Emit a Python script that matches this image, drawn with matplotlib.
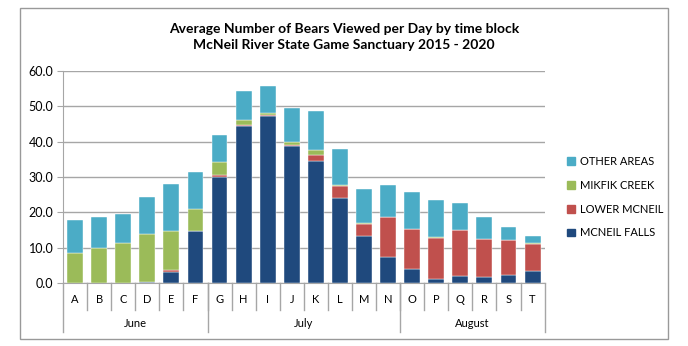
import matplotlib.pyplot as plt
from matplotlib.patches import Rectangle, Patch
import numpy as np

plt.rcParams['font.family'] = ['Lato', 'DejaVu Sans']

# time blocks and months
blocks = list("ABCDEFGHIJKLMNOPQRST")
months = ["June", "July", "August"]
month_sizes = [6, 8, 6]

# average bears per day, by viewing area
mcneil_falls = [0.0, 0.0, 0.0, 0.4, 3.0, 14.7, 30.0, 44.3, 47.2, 38.8,
                34.6, 24.0, 13.2, 7.3, 3.9, 1.1, 1.9, 1.7, 2.4, 3.5]
lower_mcneil = [0.0, 0.0, 0.0, 0.0, 0.6, 0.0, 0.5, 0.3, 0.4, 0.3,
                1.7, 3.4, 3.4, 11.4, 11.4, 11.6, 13.0, 10.8, 9.7, 7.5]
mikfik_creek = [8.5, 9.8, 11.2, 13.5, 11.0, 6.2, 3.8, 1.6, 0.5, 0.9,
                1.4, 0.2, 0.3, 0.1, 0.0, 0.2, 0.0, 0.0, 0.2, 0.3]
other_areas = [9.3, 9.0, 8.3, 10.5, 13.3, 10.4, 7.5, 8.1, 7.7, 9.6,
               10.9, 10.4, 9.6, 8.9, 10.5, 10.7, 7.8, 6.1, 3.6, 2.1]

series = [("MCNEIL FALLS", mcneil_falls, "#1F497D"),
          ("LOWER MCNEIL", lower_mcneil, "#C0504D"),
          ("MIKFIK CREEK", mikfik_creek, "#9BBB59"),
          ("OTHER AREAS", other_areas, "#4BACC6")]

fig = plt.figure(figsize=(6.88, 3.46), dpi=100)
ax = fig.add_axes([0.0916, 0.182, 0.7, 0.613])

x = np.arange(len(blocks))
bottom = np.zeros(len(blocks))
for name, vals, col in series:
    ax.bar(x, vals, 0.66, bottom=bottom, color=col, edgecolor="white",
           linewidth=0.3, zorder=3)
    bottom += np.array(vals)

ax.set_xlim(-0.5, len(blocks) - 0.5)
ax.set_ylim(0, 60)
ax.set_yticks(np.arange(0, 61, 10))
ax.set_yticklabels([f"{v:.1f}" for v in np.arange(0, 61, 10)], fontsize=9)
ax.yaxis.grid(True, color="#A6A6A6", linewidth=1, zorder=0)
ax.tick_params(axis="y", length=4, color="#A6A6A6", pad=3)
ax.set_xticks([])
for s in ["top", "right"]:
    ax.spines[s].set_visible(False)
for s in ["left", "bottom"]:
    ax.spines[s].set_color("#A6A6A6")

# category labels and separators
tr = ax.get_xaxis_transform()
for i, b in enumerate(blocks):
    ax.text(i, -0.08, b, transform=tr, ha="center", va="center", fontsize=8)
for i in range(1, len(blocks)):
    ax.plot([i - 0.5, i - 0.5], [0, -0.127], transform=tr, color="#A6A6A6",
            lw=1, clip_on=False)
edges = np.concatenate([[0], np.cumsum(month_sizes)])
for e in edges:
    ax.plot([e - 0.5, e - 0.5], [0, -0.231], transform=tr, color="#A6A6A6",
            lw=1, clip_on=False)
for m, a, b in zip(months, edges[:-1], edges[1:]):
    ax.text((a + b - 1) / 2, -0.193, m, transform=tr, ha="center",
            va="center", fontsize=8)

fig.text(0.5, 0.893, "Average Number of Bears Viewed per Day by time block\n"
         "McNeil River State Game Sanctuary 2015 - 2020",
         ha="center", va="center", fontsize=10, fontweight="bold",
         linespacing=1.4)

handles = [Patch(color=col, label=name) for name, vals, col in series[::-1]]
fig.legend(handles=handles, loc="center left", bbox_to_anchor=(0.81, 0.43),
           frameon=False, fontsize=8, handlelength=0.7, handleheight=0.7,
           handletextpad=0.4, labelspacing=1.15)

fig.patches.append(Rectangle((0.029, 0.02), 0.942, 0.957,
                             transform=fig.transFigure, fill=False,
                             edgecolor="#999999", lw=1))

fig.savefig("out.png", dpi=100)
